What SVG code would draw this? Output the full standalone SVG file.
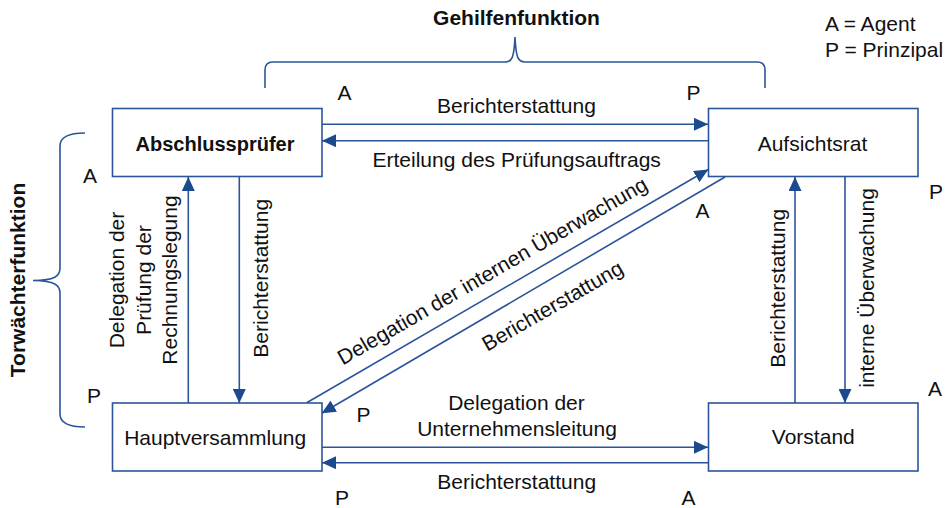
<svg xmlns="http://www.w3.org/2000/svg" width="950" height="508" viewBox="0 0 950 508">
<style>
  .box { fill: #ffffff; stroke: #2a5599; stroke-width: 1.6; }
  .ln { fill: none; stroke: #2a5599; stroke-width: 1.6; }
  .arr { marker-end: url(#ah); }
  .brace { fill: none; stroke: #2a5599; stroke-width: 1.6; }
  text { font-family: "Liberation Sans", Arial, sans-serif; font-size: 21px; fill: #111111; }
  .b { font-weight: bold; }
  .c { text-anchor: middle; }
</style>
<defs>
  <marker id="ah" markerUnits="userSpaceOnUse" markerWidth="14" markerHeight="13" refX="14" refY="6.5" orient="auto" viewBox="0 0 14 13">
    <path d="M0,0 L14,6.5 L0,13 z" fill="#1c4a8e"/>
  </marker>
</defs>

<g id="braces">
  <path class="brace" d="M265,88 L265,70 Q265,62 273,62 L505,62 C512,62 514,58 515,37 C516,58 518,62 525,62 L757,62 Q765,62 765,70 L765,88"/>
  <path class="brace" d="M85,133 Q60,133 60,146 L60,268 C60,276 55,280.5 33,280.5 C55,281 60,285 60,293 L60,414 Q60,427 85,427"/>
  <text class="b c" x="516.5" y="25">Gehilfenfunktion</text>
  <text class="b c" transform="translate(24.5,280) rotate(-90)">Torwächterfunktion</text>
</g>

<g id="legend">
  <text x="825" y="30.5">A = Agent</text>
  <text x="825" y="56.5">P = Prinzipal</text>
</g>

<g id="connectors">
  <path class="ln arr" d="M322,124.3 L708,124.3"/>
  <path class="ln arr" d="M708,140.7 L322,140.7"/>
  <path class="ln arr" d="M188.3,403 L188.3,177"/>
  <path class="ln arr" d="M239.3,177 L239.3,403"/>
  <path class="ln arr" d="M795,403 L795,177"/>
  <path class="ln arr" d="M845,177 L845,403"/>
  <path class="ln arr" d="M322,447.3 L708,447.3"/>
  <path class="ln arr" d="M708,462.7 L322,462.7"/>
  <path class="ln arr" d="M306.7,402.7 L708.3,169.5"/>
  <path class="ln arr" d="M725,177 L321.7,413.3"/>

  <text class="c" x="516.5" y="113.3">Berichterstattung</text>
  <text class="c" x="516.7" y="167.3">Erteilung des Prüfungsauftrags</text>
  <text class="c" transform="translate(123.5,280) rotate(-90)">Delegation der</text>
  <text class="c" transform="translate(150.5,280) rotate(-90)">Prüfung der</text>
  <text class="c" transform="translate(177.3,280) rotate(-90)">Rechnungslegung</text>
  <text class="c" transform="translate(268,278.3) rotate(-90)">Berichterstattung</text>
  <text class="c" transform="translate(784.5,288.3) rotate(-90)">Berichterstattung</text>
  <text class="c" transform="translate(873.5,288) rotate(-90)">interne Überwachung</text>
  <text class="c" transform="translate(496,277) rotate(-30)">Delegation der internen Überwachung</text>
  <text class="c" transform="translate(556,312) rotate(-30)">Berichterstattung</text>
  <text class="c" x="516.5" y="410">Delegation der</text>
  <text class="c" x="517" y="436">Unternehmensleitung</text>
  <text class="c" x="516.7" y="489.3">Berichterstattung</text>

  <text x="337.5" y="100">A</text>
  <text x="686.5" y="100">P</text>
  <text x="83" y="183.3">A</text>
  <text x="87" y="403.3">P</text>
  <text x="929" y="199">P</text>
  <text x="695.5" y="218.3">A</text>
  <text x="356.5" y="422.3">P</text>
  <text x="928" y="396">A</text>
  <text x="335" y="505">P</text>
  <text x="681.5" y="505">A</text>
</g>

<g id="abschlusspruefer">
  <rect class="box" x="112.5" y="108.5" width="209.5" height="68"/>
  <text class="b c" x="215" y="150.7" style="font-size:20px">Abschlussprüfer</text>
</g>
<g id="aufsichtsrat">
  <rect class="box" x="708.5" y="108.5" width="209.5" height="68"/>
  <text class="c" x="812.5" y="150.5">Aufsichtsrat</text>
</g>
<g id="hauptversammlung">
  <rect class="box" x="112.5" y="403" width="209.5" height="68"/>
  <text class="c" x="215.2" y="445">Hauptversammlung</text>
</g>
<g id="vorstand">
  <rect class="box" x="708.5" y="403" width="209.5" height="68"/>
  <text class="c" x="813.3" y="444">Vorstand</text>
</g>
</svg>
